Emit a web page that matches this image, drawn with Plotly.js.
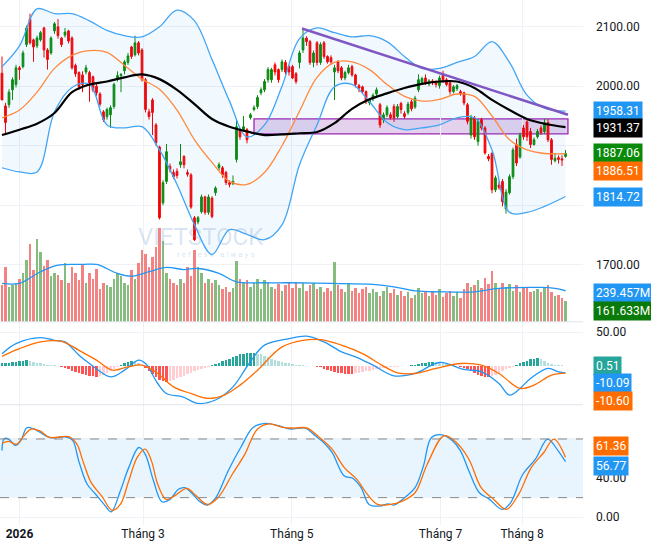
<!DOCTYPE html>
<html>
<head>
<meta charset="utf-8">
<script src="https://cdn.plot.ly/plotly-3.0.1.min.js"></script>
<style>body{margin:0;background:#fff}#chart{width:651px;height:549px}</style>
</head>
<body>
<div id="chart"></div>
<script>
// candles (one per trading day, index 0 = late Dec 2025)
const open = [2022,1967,1969,1994,2003,2031,2033,2070,2113,2078,
 2068,2078,2098,2061,2056,2093,2100,2081,2086,2093,
 2081,2035,2023,2019,2024,2023,2016,2000,1987,1957,
 1949,1952,1966,2013,2018,2026,2040,2066,2053,2073,
 2061,2011,1957,1977,1935,1898,1804,1840,1865,1855,
 1857,1868,1882,1855,1851,1779,1772,1789,1814,1788,
 1812,1821,1863,1863,1855,1838,1836,1877,1927,1927,
 1927,1947,1961,1966,1989,1994,2011,2011,2036,2028,
 2028,2040,2033,2033,2021,2040,2061,2081,2075,2040,
 2073,2040,2073,2050,2048,2024,2041,2031,2014,2023,
 2033,2019,2001,1999,1991,1972,1979,1987,1969,1944,
 1952,1952,1966,1949,1971,1954,1956,1974,1965,1994,
 2006,2014,2004,2009,2008,2001,2019,2011,2006,1991,
 1996,1991,1989,1969,1918,1947,1907,1944,1930,1882,
 1887,1826,1834,1840,1794,1821,1848,1902,1881,1930,
 1940,1924,1902,1915,1930,1924,1939,1910,1875,1880,
 1878,1882];
const close = [1977,1939,1990,2011,2031,2028,2056,2098,2073,2066,
 2081,2090,2061,2045,2081,2105,2085,2070,2091,2076,
 2031,2021,1999,2003,2031,2006,1994,1989,1970,1944,
 1961,1964,2003,2018,2020,2041,2051,2050,2073,2056,
 2011,1961,1949,1956,1905,1779,1838,1890,1860,1848,
 1850,1873,1868,1852,1797,1742,1779,1814,1788,1814,
 1781,1829,1868,1851,1838,1835,1840,1932,1915,1932,
 1910,1952,1964,1981,1994,2008,2028,2028,2024,2011,
 2041,2024,2024,2014,2008,2056,2081,2075,2040,2056,
 2040,2070,2050,2041,2041,2031,2026,2014,2023,2031,
 2019,2003,1997,1991,1974,1977,1985,1994,1935,1952,
 1964,1947,1947,1966,1961,1949,1970,1962,1980,2011,
 2013,2006,2009,2006,2003,2014,2011,2003,1991,1999,
 2001,1987,1972,1941,1947,1915,1941,1930,1888,1878,
 1826,1846,1830,1806,1822,1848,1893,1871,1918,1915,
 1915,1902,1910,1924,1922,1939,1910,1877,1879,1877,
 1876,1887.06];
const high = [2050,1972,1995,2015,2036,2034,2060,2102,2122,2080,
 2085,2093,2100,2064,2084,2108,2113,2083,2098,2095,
 2084,2038,2025,2025,2036,2026,2018,2004,1990,1960,
 1964,1968,2006,2025,2022,2044,2056,2068,2085,2076,
 2064,2014,1962,1980,1938,1900,1842,1903,1870,1860,
 1862,1903,1884,1860,1854,1782,1782,1818,1816,1818,
 1815,1832,1872,1866,1858,1842,1850,1945,1930,1950,
 1930,1955,1968,1985,1998,2012,2032,2031,2040,2030,
 2045,2044,2036,2036,2024,2060,2095,2084,2078,2060,
 2076,2074,2076,2052,2052,2036,2044,2034,2026,2036,
 2036,2021,2004,2001,1993,1980,1988,1998,1972,1956,
 1968,1956,1970,1970,1974,1958,1974,1978,1984,2020,
 2016,2020,2012,2012,2010,2018,2026,2014,2008,2002,
 2004,1994,1991,1972,1952,1950,1945,1947,1933,1886,
 1890,1850,1840,1844,1827,1852,1897,1912,1922,1935,
 1946,1930,1914,1928,1934,1945,1945,1913,1888,1884,
 1884,1893];
const low = [2010,1918,1964,1977,1998,2011,2030,2066,2070,2041,
 2064,2075,2048,2028,2053,2088,2080,2066,2082,2072,
 2028,2016,1994,1990,2020,1974,1990,1984,1966,1940,
 1944,1930,1962,2008,1990,2020,2036,2046,2050,2052,
 2008,1956,1944,1918,1900,1776,1800,1836,1855,1844,
 1845,1863,1862,1848,1794,1740,1768,1786,1784,1784,
 1778,1816,1858,1846,1834,1830,1834,1872,1910,1924,
 1904,1944,1958,1962,1985,1990,2006,2006,2018,2006,
 2024,2020,2018,2012,2004,2030,2056,2068,2036,2032,
 2035,2036,2046,2038,2036,1977,2022,2010,2010,2020,
 2016,1998,1990,1988,1970,1968,1975,1984,1930,1938,
 1948,1944,1940,1946,1954,1945,1952,1958,1962,1990,
 2004,2002,2000,2002,1998,1996,2006,2000,1986,1988,
 1992,1984,1968,1936,1912,1910,1900,1926,1885,1874,
 1820,1822,1826,1798,1786,1818,1844,1866,1878,1910,
 1908,1896,1900,1912,1918,1920,1906,1868,1872,1870,
 1866,1880];
const volume = [283,420,270,283,300,330,380,480,600,400,
 635,540,430,480,350,380,360,320,450,300,
 420,380,320,440,300,380,330,410,250,300,
 280,270,330,380,350,300,280,400,330,450,
 550,520,420,500,580,720,620,380,330,300,
 280,330,300,420,350,550,420,380,300,330,
 300,320,280,250,270,230,260,470,330,300,
 320,270,300,330,250,320,300,270,250,290,
 240,280,300,260,310,260,300,240,280,300,
 250,270,230,260,240,460,280,250,230,300,
 240,260,220,250,270,220,250,230,200,240,
 270,220,250,210,240,200,230,180,210,260,
 220,240,200,230,210,250,190,220,240,200,
 230,180,250,300,270,280,320,260,340,290,
 390,300,250,300,270,290,240,280,230,260,
 270,230,240,250,230,260,280,230,200,210,
 180,161.633];
const macdHist = [4,4.5,5,5.5,6,7,8,9,8,6,
 5,4,3,2,1.5,1,0.5,-1,-3,-5,
 -7,-9,-11,-12,-13,-14,-15,-16,-15,-13,
 -11,-8,-5,-2,1,4,6,8,7,5,
 2,-3,-8,-12,-16,-20,-22,-23,-22,-20,
 -18,-16,-14,-12,-10,-8,-6,-4,-3,-1,
 1,3,5,7,9,11,13,15,17,18,
 19,19,19,18,17,15,13,11,9,7,
 6,5,4,3,2,1.5,1,0.5,0.3,0.1,
 -1,-2,-4,-6,-8,-9,-10,-11,-12,-12,
 -12,-11,-10,-9,-8,-7,-6,-5,-4,-3,
 -2.5,-2,-1.5,-1,-0.5,-0.3,0.2,1,2,3,
 4,5,6,6,5.5,5,4,3,2,1,
 0.5,-1,-3,-5,-8,-11,-13,-15,-16,-16,
 -15,-13,-11,-8,-5,-3,-1,2,4,6,
 8,10,11,12,11,8,5,3,2,1,
 0.8,0.51];

// indicator lines read at sampled days
const bandX = [0,5,10,15,20,25,30,35,40,45,50,55,60,65,70,75,80,85,90,95,100,105,110,115,120,125,130,135,140,145,150,155,161];
const ma50 = [1918,1927,1937,1955,1990,2003,2008,2015,2020,2012,1994,1970,1945,1932,1924,1918,1919,1921,1923,1938,1962,1978,1988,1997,2004,2008,2008,1997,1977,1960,1945,1937,1931.37];
const ma20 = [1947,1960,1990,2030,2052,2060,2057,2035,2012,1995,1960,1910,1872,1840,1835,1855,1900,1958,2015,2040,2041,2028,2003,1983,1975,1978,1987,1983,1950,1910,1893,1887,1886.51];
const bbUpper = [2033,2068,2130,2122,2122,2110,2094,2085,2083,2100,2128,2110,2045,1975,1915,1935,2000,2080,2098,2090,2083,2085,2075,2050,2030,2030,2040,2050,2075,2040,1985,1963,1958.31];
const bbLower = [1863,1856,1856,1957,1998,2003,1935,1930,1932,1893,1835,1767,1717,1759,1751,1742,1767,1868,1935,1999,2003,1974,1939,1927,1930,1935,1947,1947,1893,1788,1788,1798,1814.72];
const volMaX = [0,5,11,16,23,27,33,37,42,47,52,56,62,67,75,82,94,106,112,118,125,135,142,154,158,161];
const volMa = [296,296,386,437,442,442,373,352,386,419,403,411,373,308,301,301,296,288,270,239,231,231,257,265,257,239.457];
const macdX = [0,4,11,15,18,22,25,31,35,39,41,44.5,47,51.6,56,61,66,70.6,75,82,87,92,97,101,106,112,118,125,132,137,142,145,148,151,156,159,161];
const macdLine = [18,33,41.7,37.8,35.4,16,3.7,-15.9,-6.1,8.6,3.7,-25.7,-40.4,-45.3,-55,-50,-30.6,3.7,30.7,40.4,43.9,35.4,20.9,13.5,1.3,-14.4,-11,5.2,-5.1,-8.5,-25.7,-42.8,-33,-18.4,-3.6,-8.5,-10.09];
const sigX = [0,5,11,17,22,27,31.5,36,40,44.5,49,54,59,63.5,68,73,80,86,91,97,103,108.5,113,118,124,131,137,142,148,152,157,161];
const sigLine = [14.3,25.6,35.4,36.4,23.1,8.6,-6.1,-1.2,1.3,-11,-30.6,-40.4,-47.7,-42.8,-28.1,-6.1,28.1,37.8,38.8,30.7,18.2,1.3,-10,-11,-3.6,3.7,1.3,-11,-33,-28.1,-13.5,-10.6];
const stochKX = [0,0.6,1.8,3.9,5.4,7.1,8.9,10.7,13.7,18.4,20.2,21.9,24.3,26.7,29.1,31.2,33.8,36.2,39.1,40.9,43.3,45.7,48,50.4,52.2,54.6,56.3,58.7,61.1,64.6,68.2,71.8,75.3,78.9,82.4,86.6,89.5,91.9,94.3,97.8,100.2,102.6,104.9,107.9,110.3,112,114.4,118,120.4,122.7,125.7,128.7,131,133.4,136.4,139.3,142.9,145.3,148.8,152.4,155.9,158.9,161];
const stochK = [68.2,80.2,80.2,73.4,78.5,91.5,90.5,87.1,81.3,82,78.5,57.9,33.9,23.7,13.4,5.5,26.7,50.7,71.3,64.5,37,15.8,18.2,28.5,30.2,23.3,16.5,12.3,19.9,47.3,71.3,91.9,96,93.6,90.2,91.2,83.3,76.4,66.2,42.2,39.8,30.2,13,11.3,13.7,12.3,18.2,30.2,52.4,81.6,84.3,78.2,67.9,47.3,25,18.2,7.9,14.7,43.9,59.3,79.9,67.9,56.77];
const stochDX = [0,1.8,4.2,5.9,8.3,10.7,13.7,19,21.4,23.1,25.5,28.5,31.5,33.8,36.2,38.6,40.9,42.7,44.5,46.9,49.2,52.8,55.1,58.7,61.7,65.8,69.4,73,76.5,80.1,83.6,87.2,90.7,94.3,97.8,101.4,104.4,107.3,110.9,114.4,118,121.5,126.3,129.8,133.4,136.9,140.5,144.1,147.6,151.2,154.8,157.7,161];
const stochD = [75.4,77.5,74.7,81.6,90.2,88.5,81.6,82.3,74.7,57.6,35.3,21.6,6.9,13,37,61,69.6,57.6,33.6,18.2,21.6,29.5,23.3,13,19.9,43.9,64.5,90.2,95.4,91.9,91.2,91.2,81.6,69.6,50.7,38.7,23.3,13,13,16.5,25,54.2,83.3,76.4,59.3,30.2,18.2,7.9,23.3,50.7,66.2,79.9,61.36];

// drawings
const zoneX = [72, 161.7];
const zoneY = [1920, 1945];
const trendX = [85.7, 161.7];
const trendY = [2097, 1952];

const tickPos = [5, 40.3, 82.8, 125.3, 148.6];
const tickText = ['<b>2026</b>', 'Tháng 3', 'Tháng 5', 'Tháng 7', 'Tháng 8'];

const days = close.map((_, i) => i);
const up = close.map((c, i) => c >= open[i]);
const histColors = macdHist.map((v, i) => {
  const prev = i > 0 ? macdHist[i - 1] : 0;
  if (v >= 0) return v >= prev ? '#26a69a' : '#b2dfdb';
  return v <= prev ? '#ff5252' : '#ffcdd2';
});

const traces = [
  { x: bandX, y: bbUpper, type: 'scatter', mode: 'lines', line: { color: '#42a5f5', width: 1.3, shape: 'spline' }, yaxis: 'y', hoverinfo: 'skip' },
  { x: bandX, y: bbLower, type: 'scatter', mode: 'lines', line: { color: '#42a5f5', width: 1.3, shape: 'spline' }, fill: 'tonexty', fillcolor: 'rgba(33,150,243,0.06)', yaxis: 'y', hoverinfo: 'skip' },
  { x: days, y: volume, type: 'bar', yaxis: 'y2', marker: { color: up.map(u => u ? 'rgba(95,165,85,0.75)' : 'rgba(240,100,100,0.8)') }, width: 0.6, hoverinfo: 'skip' },
  { x: volMaX, y: volMa, type: 'scatter', mode: 'lines', line: { color: '#2196f3', width: 1.3, shape: 'spline' }, yaxis: 'y2', hoverinfo: 'skip' },
  { x: bandX, y: ma20, type: 'scatter', mode: 'lines', line: { color: '#ff8a3d', width: 1.3, shape: 'spline' }, yaxis: 'y', hoverinfo: 'skip' },
  { x: bandX, y: ma50, type: 'scatter', mode: 'lines', line: { color: '#000000', width: 2.2, shape: 'spline' }, yaxis: 'y', hoverinfo: 'skip' },
  { x: days, open: open, high: high, low: low, close: close, type: 'candlestick', yaxis: 'y',
    increasing: { line: { color: '#0a8a0a', width: 1 }, fillcolor: '#0a8a0a' },
    decreasing: { line: { color: '#f80000', width: 1 }, fillcolor: '#f80000' },
    whiskerwidth: 0, hoverinfo: 'skip' },
  { x: days, y: macdHist, type: 'bar', yaxis: 'y3', marker: { color: histColors }, width: 0.6, hoverinfo: 'skip' },
  { x: macdX, y: macdLine, type: 'scatter', mode: 'lines', line: { color: '#2196f3', width: 1.3, shape: 'spline' }, yaxis: 'y3', hoverinfo: 'skip' },
  { x: sigX, y: sigLine, type: 'scatter', mode: 'lines', line: { color: '#ff6d00', width: 1.3, shape: 'spline' }, yaxis: 'y3', hoverinfo: 'skip' },
  { x: stochKX, y: stochK, type: 'scatter', mode: 'lines', line: { color: '#2196f3', width: 1.3, shape: 'spline' }, yaxis: 'y4', hoverinfo: 'skip' },
  { x: stochDX, y: stochD, type: 'scatter', mode: 'lines', line: { color: '#ff6d00', width: 1.3, shape: 'spline' }, yaxis: 'y4', hoverinfo: 'skip' },
];

const grid = '#eef1f6';
const tf = { family: 'Roboto, sans-serif', size: 12, color: '#131722' };

function tag(text, yref, y, bg, color) {
  return { text: text, xref: 'paper', x: 1, xanchor: 'left', xshift: 10, yref: yref, y: y, yanchor: 'middle',
    showarrow: false, bgcolor: bg, font: { family: 'Roboto, sans-serif', size: 12, color: color || '#fff' }, borderpad: 2 };
}

const layout = {
  width: 651, height: 549,
  margin: { l: 0, r: 68, t: 0, b: 24 },
  paper_bgcolor: '#ffffff', plot_bgcolor: '#ffffff',
  showlegend: false, dragmode: false,
  bargap: 0,
  xaxis: { range: [-0.57, 166], anchor: 'y4', tickvals: tickPos, ticktext: tickText, tickfont: tf,
    showgrid: true, gridcolor: grid, zeroline: false, showline: false, ticks: '', rangeslider: { visible: false } },
  yaxis: { domain: [0.387, 1], range: [1604, 2145], side: 'right', tickvals: [1700, 1800, 1900, 2000, 2100],
    ticktext: ['1700.00', '', '', '2000.00', '2100.00'], tickfont: tf, gridcolor: grid, zeroline: false, ticklabelstandoff: 12 },
  yaxis2: { overlaying: 'y', range: [0, 2480], visible: false },
  yaxis3: { domain: [0.229, 0.387], range: [-57, 65], side: 'right', tickvals: [50], ticktext: ['50.00'], tickfont: tf,
    gridcolor: grid, zeroline: false, ticklabelstandoff: 12 },
  yaxis4: { domain: [0, 0.229], range: [-8, 115], side: 'right', tickvals: [0, 40, 80], ticktext: ['0.00', '40.00', ''],
    tickfont: tf, gridcolor: grid, zeroline: false, ticklabelstandoff: 12 },
  shapes: [
    { type: 'rect', xref: 'x', yref: 'y', x0: zoneX[0], x1: zoneX[1], y0: zoneY[0], y1: zoneY[1],
      fillcolor: 'rgba(186,140,210,0.4)', line: { color: '#9c27b0', width: 1.3 }, layer: 'below' },
    { type: 'line', xref: 'x', yref: 'y', x0: trendX[0], x1: trendX[1], y0: trendY[0], y1: trendY[1],
      line: { color: '#7e57c2', width: 2.5 } },
    { type: 'rect', xref: 'paper', yref: 'y4', x0: 0, x1: 1, y0: 20, y1: 80, fillcolor: 'rgba(33,150,243,0.1)', line: { width: 0 }, layer: 'below' },
    { type: 'line', xref: 'paper', yref: 'y4', x0: 0, x1: 1, y0: 80, y1: 80, line: { color: '#888', width: 1, dash: 'dash' } },
    { type: 'line', xref: 'paper', yref: 'y4', x0: 0, x1: 1, y0: 20, y1: 20, line: { color: '#888', width: 1, dash: 'dash' } },
    { type: 'line', xref: 'paper', yref: 'paper', x0: 0, x1: 1, y0: 0.387, y1: 0.387, line: { color: '#e0e3eb', width: 1 } },
    { type: 'line', xref: 'paper', yref: 'paper', x0: 0, x1: 1, y0: 0.229, y1: 0.229, line: { color: '#e0e3eb', width: 1 } },
  ],
  annotations: [
    { text: 'VIETSTOCK', xref: 'paper', yref: 'paper', x: 0.345, y: 0.548, showarrow: false,
      font: { family: 'Roboto, sans-serif', size: 24, color: 'rgba(120,160,210,0.28)' } },
    { text: 'r e f r e s h   a l w a y s', xref: 'paper', yref: 'paper', x: 0.37, y: 0.515, showarrow: false,
      font: { family: 'Roboto, sans-serif', size: 8, color: 'rgba(120,160,210,0.3)' } },
    tag('1958.31', 'y', 1959, '#2196f3'),
    tag('1931.37', 'y', 1930, '#000000'),
    tag('1887.06', 'y', 1887, '#0a8a0a'),
    tag('1886.51', 'y', 1858, '#ff6d00'),
    tag('1814.72', 'y', 1814, '#2196f3'),
    tag('239.457M', 'y2', 223, '#2196f3'),
    tag('161.633M', 'y2', 85, '#0a7a0a'),
    tag('0.51', 'y3', 0.5, '#26a69a'),
    tag('-10.09', 'y3', -25.5, '#2196f3'),
    tag('-10.60', 'y3', -52, '#ff6d00'),
    tag('61.36', 'y4', 72.5, '#ff6d00'),
    tag('56.77', 'y4', 52, '#2196f3'),
  ],
};

Plotly.newPlot('chart', traces, layout, { displayModeBar: false, staticPlot: true });
</script>
</body>
</html>
